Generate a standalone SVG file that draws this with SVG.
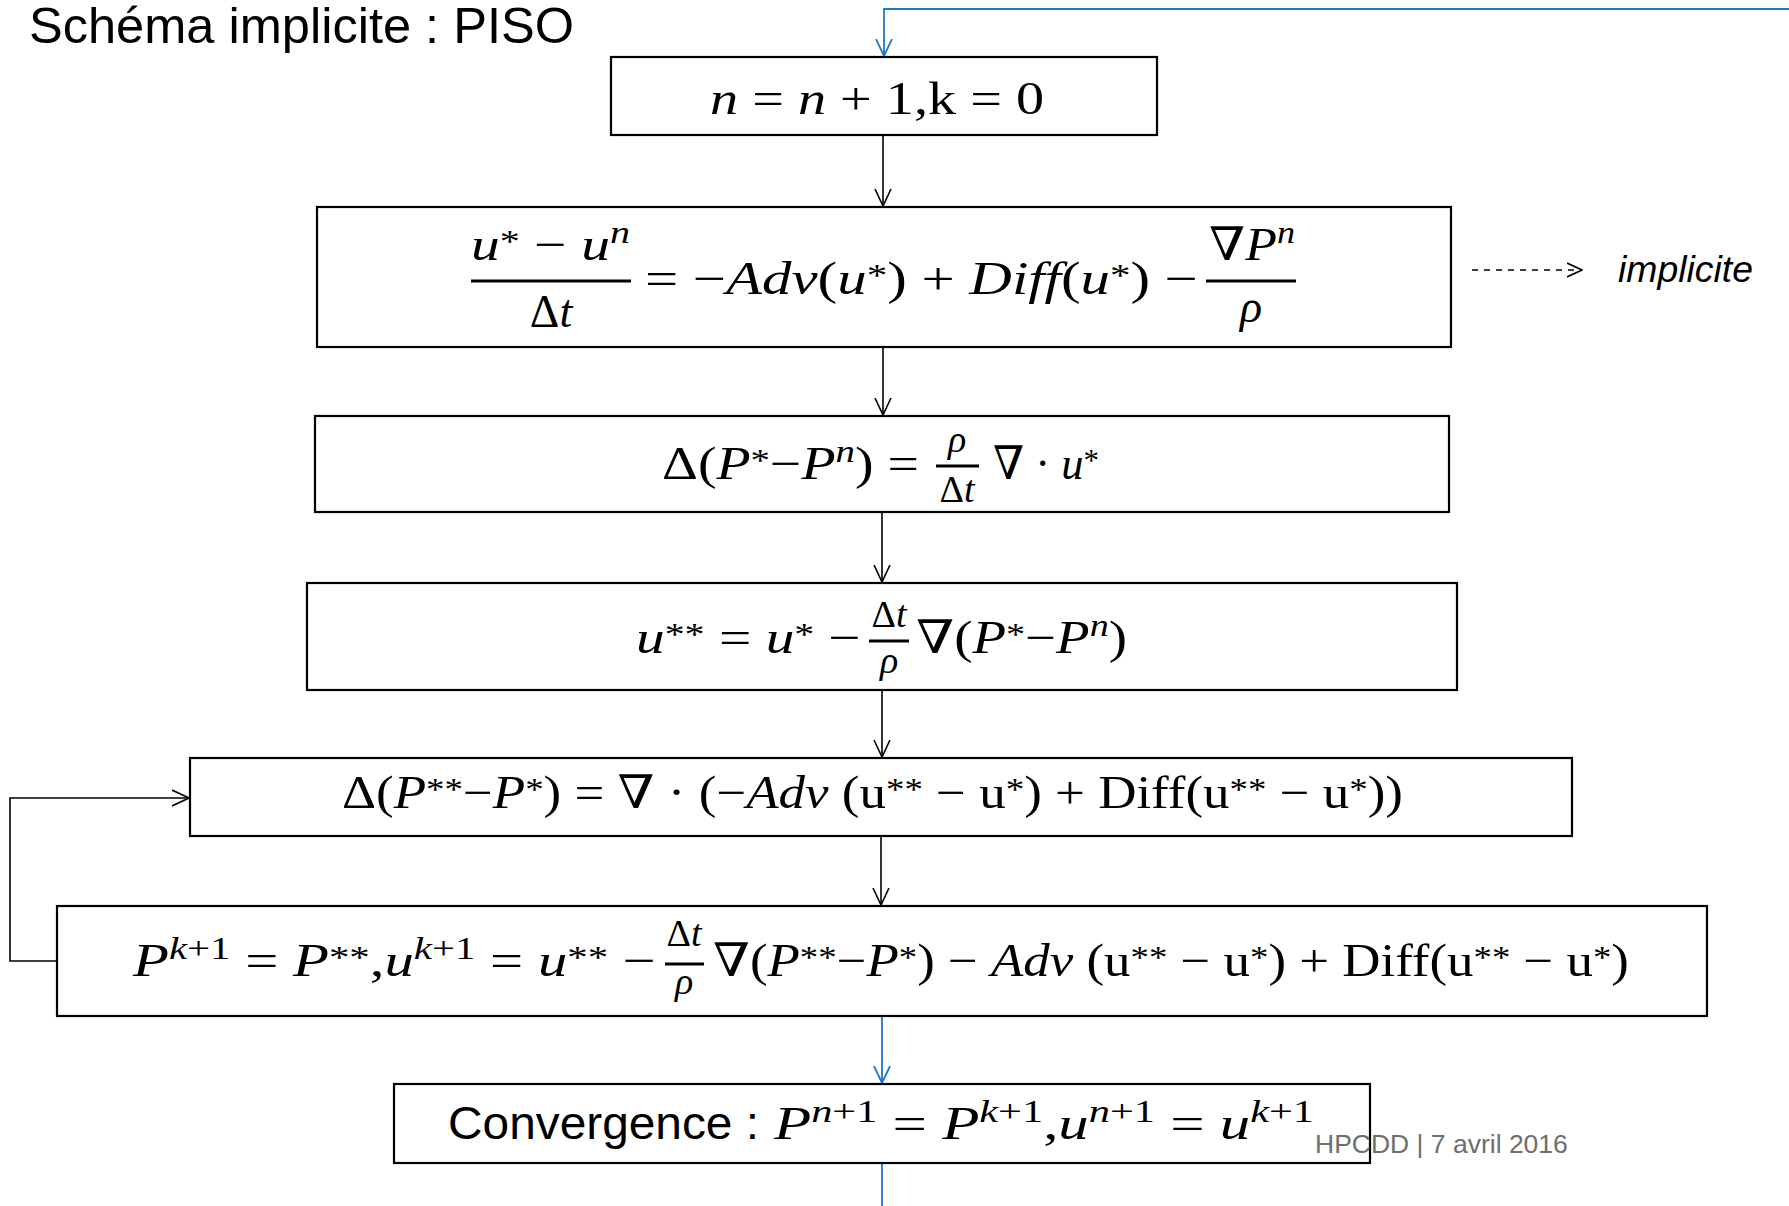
<svg xmlns="http://www.w3.org/2000/svg" width="1789" height="1206" viewBox="0 0 1789 1206">
<style>
.box{fill:#fff;stroke:#000;stroke-width:2.2}
.m{font-family:"Liberation Serif","DejaVu Serif",serif;font-size:46px;fill:#000}
.f{font-family:"Liberation Serif","DejaVu Serif",serif;font-size:38px;fill:#000}
.i{font-style:italic}
.s{font-size:32px}
.a{font-size:32px}
.bar{stroke:#000;stroke-width:3}
.c{fill:none;stroke:#000;stroke-width:1.6}
.cb{fill:none;stroke:#1e78c8;stroke-width:1.8}
.sans{font-family:"Liberation Sans",Arial,sans-serif}
</style>
<defs>
<marker id="ak" viewBox="0 0 18 18" refX="17" refY="9" markerWidth="18" markerHeight="18" markerUnits="userSpaceOnUse" orient="auto">
<path d="M0,1 L17,9 L0,17" fill="none" stroke="#000" stroke-width="1.6"/>
</marker>
<marker id="ab" viewBox="0 0 18 18" refX="17" refY="9" markerWidth="18" markerHeight="18" markerUnits="userSpaceOnUse" orient="auto">
<path d="M0,1 L17,9 L0,17" fill="none" stroke="#1e78c8" stroke-width="1.8"/>
</marker>
<marker id="ad" viewBox="0 0 16 16" refX="15" refY="8" markerWidth="16" markerHeight="16" markerUnits="userSpaceOnUse" orient="auto">
<path d="M0,1 L15,8 L0,15" fill="none" stroke="#000" stroke-width="1.6"/>
</marker>
</defs>
<rect width="1789" height="1206" fill="#fff"/>
<text class="sans" x="29" y="43" font-size="50" textLength="545" lengthAdjust="spacingAndGlyphs">Schéma implicite : PISO</text>

<g id="connectors">
<polyline class="cb" points="1789,9 884,9 884,56" marker-end="url(#ab)"/>
<line class="c" x1="883" y1="135" x2="883" y2="206" marker-end="url(#ak)"/>
<line class="c" x1="883" y1="347" x2="883" y2="415" marker-end="url(#ak)"/>
<line class="c" x1="882" y1="512" x2="882" y2="582" marker-end="url(#ak)"/>
<line class="c" x1="882" y1="690" x2="882" y2="757" marker-end="url(#ak)"/>
<line class="c" x1="881" y1="836" x2="881" y2="905" marker-end="url(#ak)"/>
<polyline class="c" points="57,961 10,961 10,798 189,798" marker-end="url(#ak)"/>
<line class="cb" x1="882" y1="1016" x2="882" y2="1083" marker-end="url(#ab)"/>
<line class="cb" x1="882" y1="1163" x2="882" y2="1206"/>
<line x1="1472" y1="270" x2="1582" y2="270" stroke="#000" stroke-width="1.6" stroke-dasharray="6 6" marker-end="url(#ad)"/>
</g>

<g id="n1">
<rect class="box" x="611" y="57" width="546" height="78"/>
<text class="m" x="710" y="114" textLength="334" lengthAdjust="spacingAndGlyphs"><tspan class="i">n</tspan> = <tspan class="i">n</tspan> + 1,k = 0</text>
</g>

<g id="n2">
<rect class="box" x="317" y="207" width="1134" height="140"/>
<text class="m" x="471" y="260" textLength="159" lengthAdjust="spacingAndGlyphs"><tspan class="i">u</tspan><tspan class="a" dy="-8">*</tspan><tspan dy="8"> − </tspan><tspan class="i">u</tspan><tspan class="s i" dy="-17">n</tspan></text>
<line class="bar" x1="471" y1="281" x2="631" y2="281"/>
<text class="m" x="551" y="327" text-anchor="middle">Δ<tspan class="i">t</tspan></text>
<text class="m" x="645" y="294" textLength="553" lengthAdjust="spacingAndGlyphs">= −<tspan class="i">Adv</tspan>(<tspan class="i">u</tspan><tspan class="a" dy="-8">*</tspan><tspan dy="8">) + </tspan><tspan class="i">Diff</tspan>(<tspan class="i">u</tspan><tspan class="a" dy="-8">*</tspan><tspan dy="8">) −</tspan></text>
<text class="m" x="1209" y="260" textLength="86" lengthAdjust="spacingAndGlyphs"><tspan class="i">∇P</tspan><tspan class="s i" dy="-17">n</tspan></text>
<line class="bar" x1="1206" y1="281" x2="1296" y2="281"/>
<text class="m i" x="1251" y="322" text-anchor="middle">ρ</text>
</g>

<g id="n3">
<rect class="box" x="315" y="416" width="1134" height="96"/>
<text class="m" x="662" y="479" textLength="257" lengthAdjust="spacingAndGlyphs">Δ(<tspan class="i">P</tspan><tspan class="a" dy="-8">*</tspan><tspan dy="8">−</tspan><tspan class="i">P</tspan><tspan class="s i" dy="-17">n</tspan><tspan dy="17">) =</tspan></text>
<line class="bar" x1="936" y1="466" x2="979" y2="466"/>
<text class="f i" x="957" y="452" text-anchor="middle">ρ</text>
<text class="f" x="957" y="502" text-anchor="middle">Δ<tspan class="i">t</tspan></text>
<text class="m" x="993" y="479" textLength="106" lengthAdjust="spacingAndGlyphs"><tspan class="i">∇</tspan> · <tspan class="i">u</tspan><tspan class="a" dy="-8">*</tspan></text>
</g>

<g id="n4">
<rect class="box" x="307" y="583" width="1150" height="107"/>
<text class="m" x="636" y="653" textLength="225" lengthAdjust="spacingAndGlyphs"><tspan class="i">u</tspan><tspan class="a" dy="-8">**</tspan><tspan dy="8"> = </tspan><tspan class="i">u</tspan><tspan class="a" dy="-8">*</tspan><tspan dy="8"> −</tspan></text>
<line class="bar" x1="869" y1="641" x2="909" y2="641"/>
<text class="f" x="889" y="627" text-anchor="middle">Δ<tspan class="i">t</tspan></text>
<text class="f i" x="889" y="673" text-anchor="middle">ρ</text>
<text class="m" x="916" y="653" textLength="211" lengthAdjust="spacingAndGlyphs"><tspan class="i">∇</tspan>(<tspan class="i">P</tspan><tspan class="a" dy="-8">*</tspan><tspan dy="8">−</tspan><tspan class="i">P</tspan><tspan class="s i" dy="-17">n</tspan><tspan dy="17">)</tspan></text>
</g>

<g id="n5">
<rect class="box" x="190" y="758" width="1382" height="78"/>
<text class="m" x="342" y="808" textLength="1061" lengthAdjust="spacingAndGlyphs">Δ(<tspan class="i">P</tspan><tspan class="a" dy="-8">**</tspan><tspan dy="8">−</tspan><tspan class="i">P</tspan><tspan class="a" dy="-8">*</tspan><tspan dy="8">) = </tspan><tspan class="i">∇</tspan> · (−<tspan class="i">Adv</tspan> (u<tspan class="a" dy="-8">**</tspan><tspan dy="8"> − u</tspan><tspan class="a" dy="-8">*</tspan><tspan dy="8">) + Diff(u</tspan><tspan class="a" dy="-8">**</tspan><tspan dy="8"> − u</tspan><tspan class="a" dy="-8">*</tspan><tspan dy="8">))</tspan></text>
</g>

<g id="n6">
<rect class="box" x="57" y="906" width="1650" height="110"/>
<text class="m" x="133" y="976" textLength="523" lengthAdjust="spacingAndGlyphs"><tspan class="i">P</tspan><tspan class="s" dy="-17"><tspan class="i">k</tspan>+1</tspan><tspan dy="17"> = </tspan><tspan class="i">P</tspan><tspan class="a" dy="-8">**</tspan><tspan dy="8">,</tspan><tspan class="i">u</tspan><tspan class="s" dy="-17"><tspan class="i">k</tspan>+1</tspan><tspan dy="17"> = </tspan><tspan class="i">u</tspan><tspan class="a" dy="-8">**</tspan><tspan dy="8"> −</tspan></text>
<line class="bar" x1="665" y1="964" x2="704" y2="964"/>
<text class="f" x="684" y="946" text-anchor="middle">Δ<tspan class="i">t</tspan></text>
<text class="f i" x="684" y="994" text-anchor="middle">ρ</text>
<text class="m" x="713" y="976" textLength="916" lengthAdjust="spacingAndGlyphs"><tspan class="i">∇</tspan>(<tspan class="i">P</tspan><tspan class="a" dy="-8">**</tspan><tspan dy="8">−</tspan><tspan class="i">P</tspan><tspan class="a" dy="-8">*</tspan><tspan dy="8">) − </tspan><tspan class="i">Adv</tspan> (u<tspan class="a" dy="-8">**</tspan><tspan dy="8"> − u</tspan><tspan class="a" dy="-8">*</tspan><tspan dy="8">) + Diff(u</tspan><tspan class="a" dy="-8">**</tspan><tspan dy="8"> − u</tspan><tspan class="a" dy="-8">*</tspan><tspan dy="8">)</tspan></text>
</g>

<g id="n7">
<rect class="box" x="394" y="1084" width="976" height="79"/>
<text class="sans" x="448" y="1139" font-size="47" textLength="311" lengthAdjust="spacingAndGlyphs">Convergence :</text>
<text class="m" x="774" y="1139" textLength="540" lengthAdjust="spacingAndGlyphs"><tspan class="i">P</tspan><tspan class="s" dy="-17"><tspan class="i">n</tspan>+1</tspan><tspan dy="17"> = </tspan><tspan class="i">P</tspan><tspan class="s" dy="-17"><tspan class="i">k</tspan>+1</tspan><tspan dy="17">,</tspan><tspan class="i">u</tspan><tspan class="s" dy="-17"><tspan class="i">n</tspan>+1</tspan><tspan dy="17"> = </tspan><tspan class="i">u</tspan><tspan class="s" dy="-17"><tspan class="i">k</tspan>+1</tspan></text>
</g>

<g id="implicite">
<text class="sans" x="1618" y="282" font-size="37" font-style="italic" textLength="135" lengthAdjust="spacingAndGlyphs">implicite</text>
</g>

<text class="sans" x="1315" y="1153" font-size="26.5" fill="#6e6e6e">HPCDD | 7 avril 2016</text>
</svg>
